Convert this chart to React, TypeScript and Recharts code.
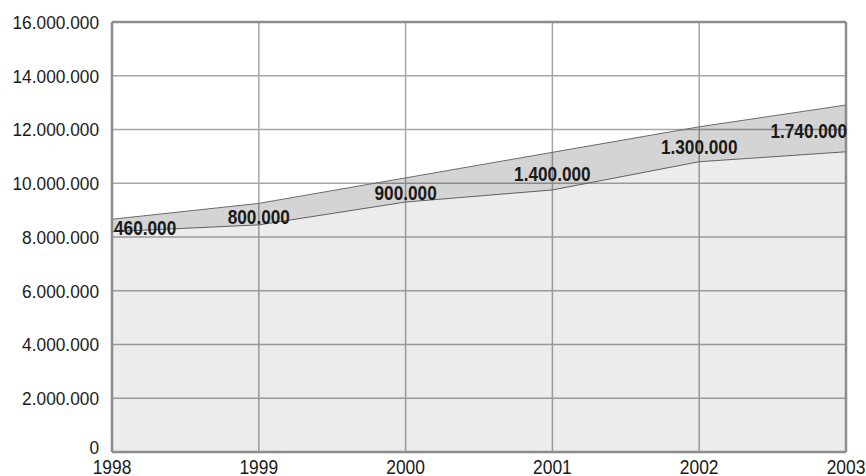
import { AreaChart, Area, XAxis, YAxis, CartesianGrid, ReferenceLine } from "recharts";

const years = [1998, 1999, 2000, 2001, 2002, 2003];
const baseValues = [8200000, 8450000, 9300000, 9750000, 10800000, 11170000];
const bandValues = [460000, 800000, 900000, 1400000, 1300000, 1740000];
const bandLabels = ["460.000", "800.000", "900.000", "1.400.000", "1.300.000", "1.740.000"];
const yTicks = [0, 2000000, 4000000, 6000000, 8000000, 10000000, 12000000, 14000000, 16000000];

const W = 866;
const H = 476;
const M = { top: 22, right: 20, left: 0, bottom: 0 };
const X_H = 24;
const PLOT_H = H - M.top - M.bottom - X_H;
const Y_MAX = 16000000;

const FONT = "'Liberation Sans', Arial, sans-serif";

const fmt = (v: number) => v.toLocaleString("de-DE");

const data = years.map((year, i) => ({ year, base: baseValues[i], band: bandValues[i] }));

// narrow text: the source uses a condensed face we don't have, so squeeze Liberation Sans
function Squeezed({ x, y, sx, anchor, size, bold, dy, children }: any) {
  return (
    <g transform={`translate(${x},${y}) scale(${sx},1)`}>
      <text x={0} y={0} dy={dy} textAnchor={anchor} fill="#1a1a1a" fontSize={size}
        fontWeight={bold ? "bold" : "normal"} fontFamily={FONT}>
        {children}
      </text>
    </g>
  );
}

function YTick(props: any) {
  const { x, y, payload } = props;
  const off = payload.value === 0 ? -5 : 0;
  return (
    <Squeezed x={x} y={y + off} sx={0.91} anchor="end" size={19} dy="0.36em">
      {fmt(payload.value)}
    </Squeezed>
  );
}

function XTick(props: any) {
  const { x, y, payload } = props;
  return (
    <Squeezed x={x} y={y} sx={0.87} anchor="middle" size={20} dy="0.72em">
      {payload.value}
    </Squeezed>
  );
}

function BandLabel(props: any) {
  const { x, y, index } = props;
  if (x == null || y == null) return null;
  const mid = y + (bandValues[index] * PLOT_H) / Y_MAX / 2 + 2;
  const last = index === years.length - 1;
  const anchor = index === 0 ? "start" : last ? "end" : "middle";
  const tx = index === 0 ? x + 2 : last ? x + 1 : x;
  return (
    <Squeezed x={tx} y={mid} sx={0.82} anchor={anchor} size={21} bold dy="0.36em">
      {bandLabels[index]}
    </Squeezed>
  );
}

export default function App() {
  return (
    <div style={{ position: "fixed", left: 0, top: 0, width: W, height: H, background: "#fff" }}>
      <AreaChart width={W} height={H} data={data} margin={M}>
        <CartesianGrid stroke="#a6a6a6" strokeWidth={1.5} />
        <XAxis
          dataKey="year"
          type="number"
          domain={[1998, 2003]}
          ticks={years}
          height={X_H}
          tickLine={false}
          tickSize={0}
          tickMargin={8}
          axisLine={{ stroke: "#8c8c8c", strokeWidth: 2.5 }}
          tick={<XTick />}
          interval={0}
        />
        <YAxis
          width={112}
          domain={[0, Y_MAX]}
          ticks={yTicks}
          tickLine={false}
          tickSize={0}
          tickMargin={13}
          axisLine={{ stroke: "#8c8c8c", strokeWidth: 2.5 }}
          tick={<YTick />}
          interval={0}
        />
        <ReferenceLine y={Y_MAX} stroke="#8c8c8c" strokeWidth={2.5} />
        <ReferenceLine x={2003} stroke="#8c8c8c" strokeWidth={2.5} />
        <Area
          type="linear"
          dataKey="base"
          stackId="a"
          stroke="#6a6a6a"
          strokeWidth={1}
          fill="#000"
          fillOpacity={0.075}
          isAnimationActive={false}
        />
        <Area
          type="linear"
          dataKey="band"
          stackId="a"
          stroke="#6a6a6a"
          strokeWidth={1}
          fill="#000"
          fillOpacity={0.17}
          isAnimationActive={false}
          label={<BandLabel />}
        />
      </AreaChart>
    </div>
  );
}
